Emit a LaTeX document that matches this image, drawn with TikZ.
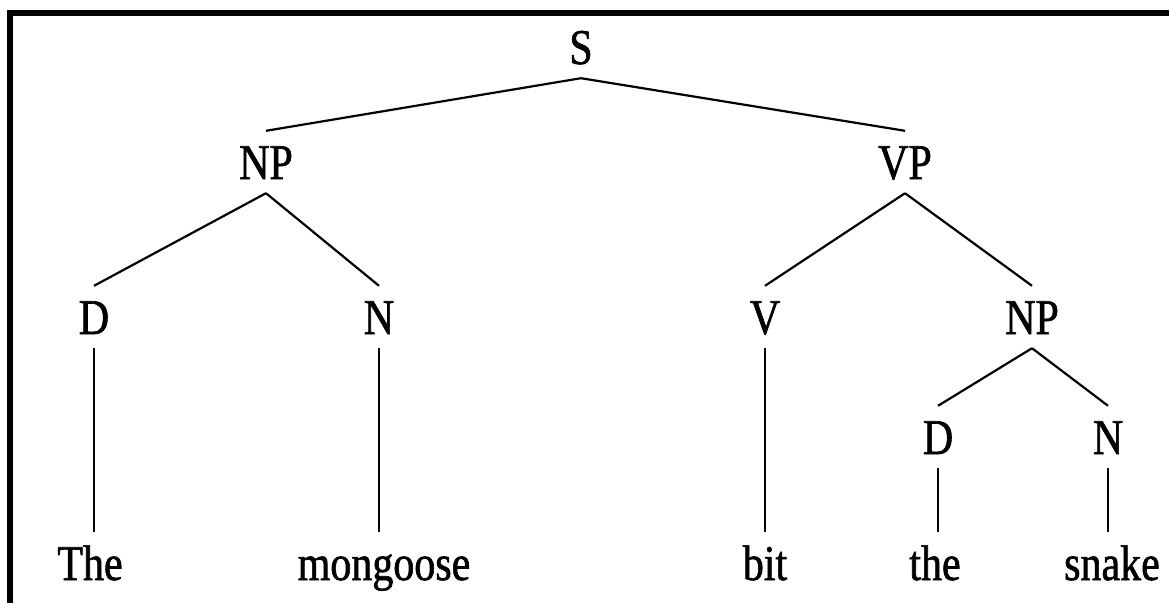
\documentclass[tikz,border=0pt]{standalone}
\usepackage{fontspec}
\newfontfamily\treefont[FakeStretch=0.84, FakeBold=1.2]{Liberation Serif}

\begin{document}
\begin{tikzpicture}
  [x=1pt, y=-1pt,
   cat/.style={font=\treefont\fontsize{50}{60}\selectfont, anchor=base, text height=34pt, text depth=0pt, inner xsep=2pt, inner ysep=14pt},
   branch/.style={line width=2.2pt, draw=black},
   frame/.style={line width=6pt, draw=black, line join=miter}]

  \useasboundingbox (0,0) rectangle (1169,603);

  % Marco
  \draw[frame] (10,603) -- (10,13) -- (1169,13);

  % Categorías
  \node[cat] (s)   at (581,64)  {S};
  \node[cat] (np1) at (266,179) {NP};
  \node[cat] (vp)  at (905,179) {VP};
  \node[cat] (d1)  at (94,334)  {D};
  \node[cat] (n1)  at (379,334) {N};
  \node[cat] (v)   at (765,334) {V};
  \node[cat] (np2) at (1032,334) {NP};
  \node[cat] (d2)  at (938,454) {D};
  \node[cat] (n2)  at (1108,454) {N};

  % Palabras
  \node[cat] (w1) at (90,580)   {The};
  \node[cat] (w2) at (384,580)  {mongoose};
  \node[cat] (w3) at (765,580)  {bit};
  \node[cat] (w4) at (935,580)  {the};
  \node[cat] (w5) at (1112,580) {snake};

  % Ramas
  \foreach \from/\to in {s/np1, s/vp, np1/d1, np1/n1, vp/v, vp/np2, np2/d2, np2/n2}
    \draw[branch] (\from.south) -- (\to.north);

  % Ramas a las palabras
  \foreach \from/\to in {d1/w1, n1/w2, v/w3, d2/w4, n2/w5}
    \draw[branch] (\from.south) -- (\from.south |- \to.north);
\end{tikzpicture}
\end{document}
